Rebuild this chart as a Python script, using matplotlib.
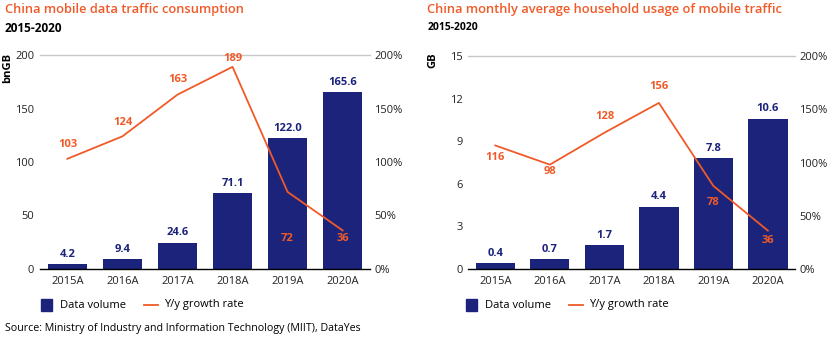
import matplotlib
matplotlib.use("Agg")
import matplotlib.pyplot as plt
from matplotlib.patches import Rectangle
from matplotlib.lines import Line2D

years = ["2015A", "2016A", "2017A", "2018A", "2019A", "2020A"]
volume_bn_gb = [4.2, 9.4, 24.6, 71.1, 122.0, 165.6]
growth_left = [103, 124, 163, 189, 72, 36]
household_gb = [0.4, 0.7, 1.7, 4.4, 7.8, 10.6]
growth_right = [116, 98, 128, 156, 78, 36]

NAVY = "#1b237b"
ORANGE = "#f05a28"
plt.rcParams['font.family'] = ['Open Sans', 'DejaVu Sans']

fig = plt.figure(figsize=(8.3, 3.4), dpi=100)


def panel(rect, vals, growth, yticks, ymax, ylabel, title, subtitle, sub_size,
          bar_fmt, growth_offsets, ylabel_pos):
    ax = fig.add_axes(rect)
    x = range(len(years))
    bars = ax.bar(x, vals, width=0.72, color=NAVY, zorder=2)
    ax.bar_label(bars, labels=[bar_fmt.format(v) for v in vals], padding=3,
                 color=NAVY, fontsize=8, fontweight='bold')
    ax.set_ylim(0, ymax)
    ax.set_xlim(-0.5, len(years) - 0.5)
    ax.set_yticks(yticks)
    ax.set_xticks(list(x))
    ax.set_xticklabels(years)
    ax.tick_params(length=0, labelsize=8, colors='#222222', pad=5)
    ax.tick_params(axis='y', pad=4)
    for s in ['left', 'right']:
        ax.spines[s].set_visible(False)
    ax.spines['top'].set_color('#c8c8c8')
    ax.spines['top'].set_linewidth(1.0)
    ax.spines['bottom'].set_color('black')
    ax.spines['bottom'].set_linewidth(1.0)

    ax2 = ax.twinx()
    ax2.plot(list(x), growth, color=ORANGE, lw=1.3, zorder=3)
    ax2.set_ylim(0, 200)
    ax2.set_yticks([0, 50, 100, 150, 200])
    ax2.set_yticklabels([f"{v}%" for v in [0, 50, 100, 150, 200]])
    ax2.tick_params(length=0, labelsize=8, colors='#222222', pad=3)
    for s in ['left', 'right', 'top', 'bottom']:
        ax2.spines[s].set_visible(False)
    for i, g in enumerate(growth):
        ax2.annotate(f"{g}", (i, g), xytext=(0, growth_offsets[i]),
                     textcoords='offset pixels', ha='center', va='center',
                     color=ORANGE, fontsize=8, fontweight='bold')

    fig.text(ylabel_pos[0], ylabel_pos[1], ylabel, rotation=90, fontsize=8,
             fontweight='bold', ha='center', va='center')
    fig.text(rect[0] - title[1], title[2], title[0], color=ORANGE, fontsize=9.3,
             fontweight='semibold', ha='left', va='center')
    fig.text(rect[0] - title[1], subtitle[1], subtitle[0], fontsize=sub_size,
             fontweight='bold', ha='left', va='center')
    return ax


panel([0.048, 0.209, 0.398, 0.629], volume_bn_gb, growth_left,
      [0, 50, 100, 150, 200], 200, "bnGB",
      ("China mobile data traffic consumption", 0.042, 1 - 10 / 340),
      ("2015-2020", 1 - 29 / 340), 8.5, "{:.1f}",
      [14, 14, 15, 8, -47, -8], (8 / 830, 1 - 68 / 340))

panel([0.564, 0.209, 0.394, 0.626], household_gb, growth_right,
      [0, 3, 6, 9, 12, 15], 15, "GB",
      ("China monthly average household usage of mobile traffic", 0.049, 1 - 10 / 340),
      ("2015-2020", 1 - 28 / 340), 7.5, "{:.1f}",
      [-12, -7, 16, 16, -17, -10], (433 / 830, 1 - 60 / 340))

# legends
for x0 in [41 / 830, 466 / 830]:
    fig.patches.append(Rectangle((x0, 1 - 311 / 340), 11 / 830, 12 / 340,
                                 transform=fig.transFigure, color=NAVY))
    fig.text(x0 + 19 / 830, 1 - 305 / 340, "Data volume", fontsize=8,
             va='center', ha='left')
    fig.lines.append(Line2D([x0 + 103 / 830, x0 + 117 / 830],
                            [1 - 305 / 340, 1 - 305 / 340],
                            transform=fig.transFigure, color=ORANGE, lw=1.3))
    fig.text(x0 + 123 / 830, 1 - 305 / 340, "Y/y growth rate", fontsize=8,
             va='center', ha='left')

fig.text(5 / 830, 1 - 329 / 340,
         "Source: Ministry of Industry and Information Technology (MIIT), DataYes",
         fontsize=7.7, va='center', ha='left')

fig.savefig("out.png", dpi=100)
